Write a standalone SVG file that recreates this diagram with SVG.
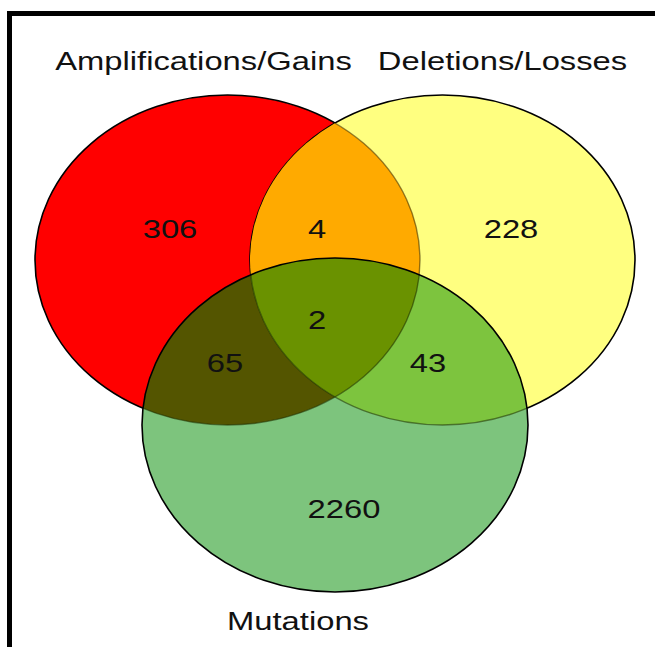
<svg xmlns="http://www.w3.org/2000/svg" width="655" height="647" viewBox="0 0 655 647">
  <style>
    .lbl { font-family: "Liberation Sans", Arial, sans-serif; font-size: 25px; fill: #111; text-anchor: middle; }
    .edge { fill: none; stroke: #000; stroke-width: 1.6; }
    .inner { fill: none; stroke: #1e3000; stroke-width: 1.4; stroke-opacity: 0.55; }
  </style>
  <defs>
    <ellipse id="setA" cx="227.5" cy="260" rx="192.5" ry="165"/>
    <ellipse id="setB" cx="442.5" cy="260" rx="192.5" ry="165"/>
    <ellipse id="setC" cx="335" cy="425" rx="193" ry="167"/>
    <clipPath id="inB"><use href="#setB"/></clipPath>
    <clipPath id="inC"><use href="#setC"/></clipPath>
  </defs>

  <rect width="655" height="647" fill="#fff"/>
  <!-- frame -->
  <path d="M9.5 700 V13.5 H700" fill="none" stroke="#000" stroke-width="5"/>

  <g id="amplifications">
    <use href="#setA" fill="#ff0000" stroke="#000" stroke-width="1.6"/>
  </g>
  <g id="deletions">
    <use href="#setB" fill="#ffff80" stroke="#000" stroke-width="1.6"/>
    <!-- A and B overlap -->
    <use href="#setA" fill="#ffaa00" clip-path="url(#inB)"/>
    <use href="#setA" class="inner" clip-path="url(#inB)" style="stroke:#3a2a00"/>
  </g>
  <g id="mutations">
    <use href="#setC" fill="#7dc47d"/>
    <use href="#setA" fill="#545500" clip-path="url(#inC)"/>
    <use href="#setB" fill="#7dc43e" clip-path="url(#inC)"/>
    <g clip-path="url(#inC)">
      <use href="#setA" fill="#6a9200" clip-path="url(#inB)"/>
    </g>
    <g clip-path="url(#inC)">
      <use href="#setA" class="inner"/>
      <use href="#setB" class="inner"/>
    </g>
    <use href="#setC" class="edge"/>
  </g>

  <g id="labels">
    <text class="lbl" transform="translate(203.5,70) scale(1.31,1)">Amplifications/Gains</text>
    <text class="lbl" transform="translate(502.5,70) scale(1.31,1)">Deletions/Losses</text>
    <text class="lbl" transform="translate(298,630) scale(1.31,1)">Mutations</text>
    <text class="lbl" transform="translate(170,238) scale(1.31,1)">306</text>
    <text class="lbl" transform="translate(317,238) scale(1.31,1)">4</text>
    <text class="lbl" transform="translate(511,238) scale(1.31,1)">228</text>
    <text class="lbl" transform="translate(317,329) scale(1.31,1)">2</text>
    <text class="lbl" transform="translate(225,372) scale(1.31,1)">65</text>
    <text class="lbl" transform="translate(428,372) scale(1.31,1)">43</text>
    <text class="lbl" transform="translate(344,518) scale(1.31,1)">2260</text>
  </g>
</svg>
